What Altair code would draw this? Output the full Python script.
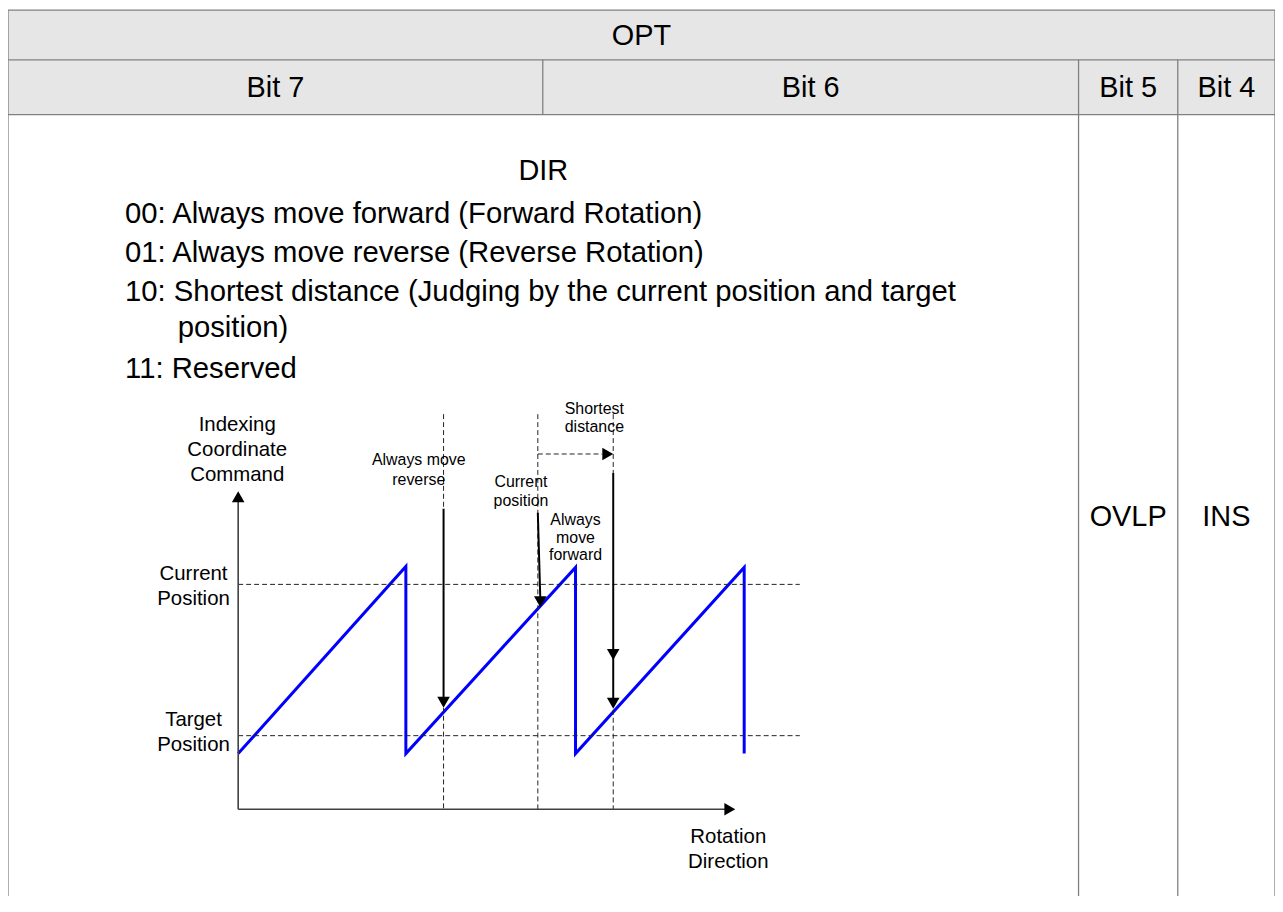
import altair as alt
import pandas as pd

# ---------------- table geometry (reference pixel units) ----------------
hdr_x1 = [4, 4]
hdr_x2 = [1281, 1281]
hdr_y1 = [5, 55]
hdr_y2 = [55, 110]

grid_h_y = [5, 55, 110]
grid_h_x1 = [4, 4, 4]
grid_h_x2 = [1281, 1281, 1281]

grid_v_x = [4, 1281, 543, 1083, 1183]
grid_v_y1 = [5, 5, 55, 55, 55]
grid_v_y2 = [895, 895, 110, 895, 895]

# ---------------- texts ----------------
big_c_text = ["OPT", "Bit 7", "Bit 6", "Bit 5", "Bit 4", "DIR", "OVLP", "INS"]
big_c_x = [642.5, 273.5, 813, 1133, 1232, 543.5, 1133, 1232]
big_c_y = [40.5, 92.5, 92.5, 92.5, 92.5, 176, 523, 523]

big_l_text = [
    "00: Always move forward (Forward Rotation)",
    "01: Always move reverse (Reverse Rotation)",
    "10: Shortest distance (Judging by the current position and target",
    "position)",
    "11: Reserved",
]
big_l_x = [122, 122, 122, 175, 122]
big_l_y = [219, 258, 297, 333, 375]

mid_text = ["Indexing", "Coordinate", "Command", "Current", "Position",
            "Target", "Position", "Rotation", "Direction"]
mid_x = [235, 235, 235, 191, 191, 191, 191, 730, 730]
mid_y = [422, 447, 472, 572, 597, 718, 743, 836, 861]

small_text = ["Always move", "reverse", "Current", "position", "Always",
              "move", "forward", "Shortest", "distance"]
small_x = [418, 418, 521, 521, 576, 576, 576, 595, 595]
small_y = [457, 477, 479, 498, 517, 535, 553, 406, 424]

# ---------------- diagram ----------------
saw_x = [236, 405, 405, 576, 576, 746, 746]
saw_y = [752, 564, 752, 565, 752, 565, 752]

axis_x1 = [236, 236]
axis_y1 = [808, 808]
axis_x2 = [236, 727]
axis_y2 = [497, 808]

shaft_x1 = [443, 538, 614]
shaft_y1 = [506, 510, 470]
shaft_x2 = [443, 540.5, 614]
shaft_y2 = [696, 596, 698]

dash_x1 = [443, 443, 538, 614, 614, 538, 236, 236]
dash_y1 = [411, 706, 411, 411, 708, 451, 582, 734]
dash_x2 = [443, 443, 538, 614, 614, 603, 802, 802]
dash_y2 = [506, 808, 808, 470, 808, 451, 582, 734]

head_up_x = [236]
head_up_y = [494]
head_right_x = [731.5, 608.5]
head_right_y = [808, 451]
head_down_x = [443, 540.5, 614, 614]
head_down_y = [700.5, 599.5, 652.5, 701.5]

XS = alt.Scale(domain=[4, 1281], nice=False, zero=False)
YS = alt.Scale(domain=[5, 895], reverse=True, nice=False, zero=False)
FONT = "Liberation Sans"


def X(f):
    return alt.X(f, type="quantitative", scale=XS, axis=None)


def Y(f):
    return alt.Y(f, type="quantitative", scale=YS, axis=None)


def segs(x1, y1, x2, y2):
    return pd.DataFrame({"x1": x1, "y1": y1, "x2": x2, "y2": y2})


hdr = alt.Chart(segs(hdr_x1, hdr_y1, hdr_x2, hdr_y2)).mark_rect(
    color="#e6e6e6").encode(x=X("x1"), x2="x2", y=Y("y1"), y2="y2")

grid_h = alt.Chart(segs(grid_h_x1, grid_h_y, grid_h_x2, grid_h_y)).mark_rule(
    color="#808080", strokeWidth=1.3).encode(x=X("x1"), x2="x2", y=Y("y1"), y2="y2")

grid_v = alt.Chart(segs(grid_v_x, grid_v_y1, grid_v_x, grid_v_y2)).mark_rule(
    color="#808080", strokeWidth=1.3).encode(x=X("x1"), x2="x2", y=Y("y1"), y2="y2")

saw = alt.Chart(pd.DataFrame({"x": saw_x, "y": saw_y, "i": list(range(len(saw_x)))})).mark_line(
    color="#0000ff", strokeWidth=3).encode(x=X("x"), y=Y("y"), order="i:Q")

dashed = alt.Chart(segs(dash_x1, dash_y1, dash_x2, dash_y2)).mark_rule(
    color="#222222", strokeWidth=1, strokeDash=[5, 3]).encode(
    x=X("x1"), x2="x2", y=Y("y1"), y2="y2")

axes = alt.Chart(segs(axis_x1, axis_y1, axis_x2, axis_y2)).mark_rule(
    color="#404040", strokeWidth=1.6).encode(x=X("x1"), x2="x2", y=Y("y1"), y2="y2")

shafts = alt.Chart(segs(shaft_x1, shaft_y1, shaft_x2, shaft_y2)).mark_rule(
    color="black", strokeWidth=2).encode(x=X("x1"), x2="x2", y=Y("y1"), y2="y2")


def heads(xs, ys, shape):
    return alt.Chart(pd.DataFrame({"x": xs, "y": ys})).mark_point(
        shape=shape, filled=True, size=160, color="black", opacity=1, strokeWidth=0
    ).encode(x=X("x"), y=Y("y"))


def texts(t, xs, ys, size, align, baseline):
    return alt.Chart(pd.DataFrame({"x": xs, "y": ys, "t": t})).mark_text(
        font=FONT, fontSize=size, align=align, baseline=baseline, color="black"
    ).encode(x=X("x"), y=Y("y"), text="t:N")


chart = alt.layer(
    hdr, grid_h, grid_v, saw, dashed, axes, shafts,
    heads(head_up_x, head_up_y, "triangle-up"),
    heads(head_right_x, head_right_y, "triangle-right"),
    heads(head_down_x, head_down_y, "triangle-down"),
    texts(big_c_text, big_c_x, big_c_y, 29, "center", "alphabetic"),
    texts(big_l_text, big_l_x, big_l_y, 29.4, "left", "alphabetic"),
    texts(mid_text, mid_x, mid_y, 20.5, "center", "middle"),
    texts(small_text, small_x, small_y, 16, "center", "middle"),
).properties(
    width=1273, height=890, padding=0,
    autosize=alt.AutoSizeParams(type="none"),
).configure_view(stroke=None)

chart.save("out.html", embed_options={"renderer": "svg", "actions": False})
